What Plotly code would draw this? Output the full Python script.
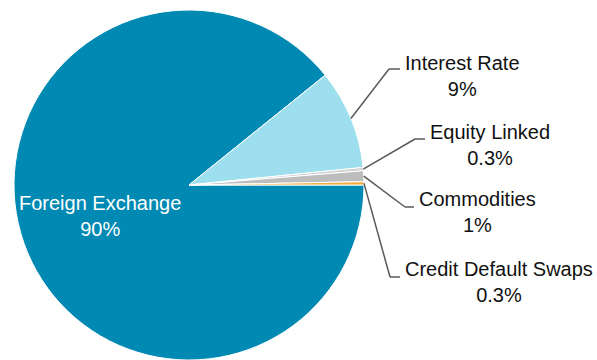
import math
import plotly.graph_objects as go

# data
segments = ["Foreign Exchange", "Interest Rate", "Equity Linked", "Commodities", "Credit Default Swaps"]
shares = [89.2, 9.2, 0.3, 1.0, 0.3]
share_labels = ["90%", "9%", "0.3%", "1%", "0.3%"]
colors = ["#0089B2", "#9DDFEE", "#D0D0D0", "#BDBDBD", "#F2A93B"]

W, H = 597, 360
cx, cy, r = 189, 185, 175   # pie centre / radius in px

# leader line elbows (px) and label left edge / vertical centre (px) for the outside labels
elbows = {1: (389, 69), 2: (415, 139), 3: (405, 207), 4: (390, 277)}
label_pos = {1: (403, 76), 2: (428, 145), 3: (417, 212), 4: (403, 282)}

def px2paper(x, y):
    return x / W, 1 - y / H

fig = go.Figure(go.Pie(
    labels=segments, values=shares, sort=False,
    direction="clockwise", rotation=90,
    marker=dict(colors=colors, line=dict(color="white", width=1)),
    textinfo="none", hoverinfo="label+percent", showlegend=False,
    domain=dict(x=[(cx - r) / W, (cx + r) / W], y=[max(0, (H - cy - r) / H), (H - cy + r) / H]),
))

total = sum(shares)
cum = 0
shapes, annotations = [], []
font = dict(family="Liberation Sans, Arial, sans-serif", size=20, color="#111111")
for i, (name, v) in enumerate(zip(segments, shares)):
    mid = math.radians(360 * (cum + v / 2) / total)   # clockwise from 3 o'clock
    cum += v
    if i == 0:
        x, y = px2paper(cx + 0.54 * r * math.cos(mid), cy + 0.54 * r * math.sin(mid))
        annotations.append(dict(x=x, y=y, xref="paper", yref="paper", xanchor="center", yanchor="middle",
                                showarrow=False, text=f"{name}<br>{share_labels[i]}", align="center",
                                font=dict(font, color="white")))
        continue
    sx, sy = cx + r * math.cos(mid), cy + r * math.sin(mid)
    ex, ey = elbows[i]
    lx, ly = label_pos[i]
    for (x0, y0), (x1, y1) in [((sx, sy), (ex, ey)), ((ex, ey), (lx - 3, ey))]:
        a0, b0 = px2paper(x0, y0)
        a1, b1 = px2paper(x1, y1)
        shapes.append(dict(type="line", xref="paper", yref="paper", x0=a0, y0=b0, x1=a1, y1=b1,
                           line=dict(color="#595959", width=1.5)))
    x, y = px2paper(lx, ly)
    annotations.append(dict(x=x, y=y, xref="paper", yref="paper", xanchor="left", yanchor="middle",
                            showarrow=False, text=f"{name}<br>{share_labels[i]}", align="center",
                            font=font))

fig.update_layout(
    width=W, height=H,
    margin=dict(l=0, r=0, t=0, b=0),
    paper_bgcolor="white", plot_bgcolor="white",
    shapes=shapes, annotations=annotations,
)

fig.write_html("out.html", config={"displayModeBar": False},
               post_script="document.body.style.margin = '0';")
